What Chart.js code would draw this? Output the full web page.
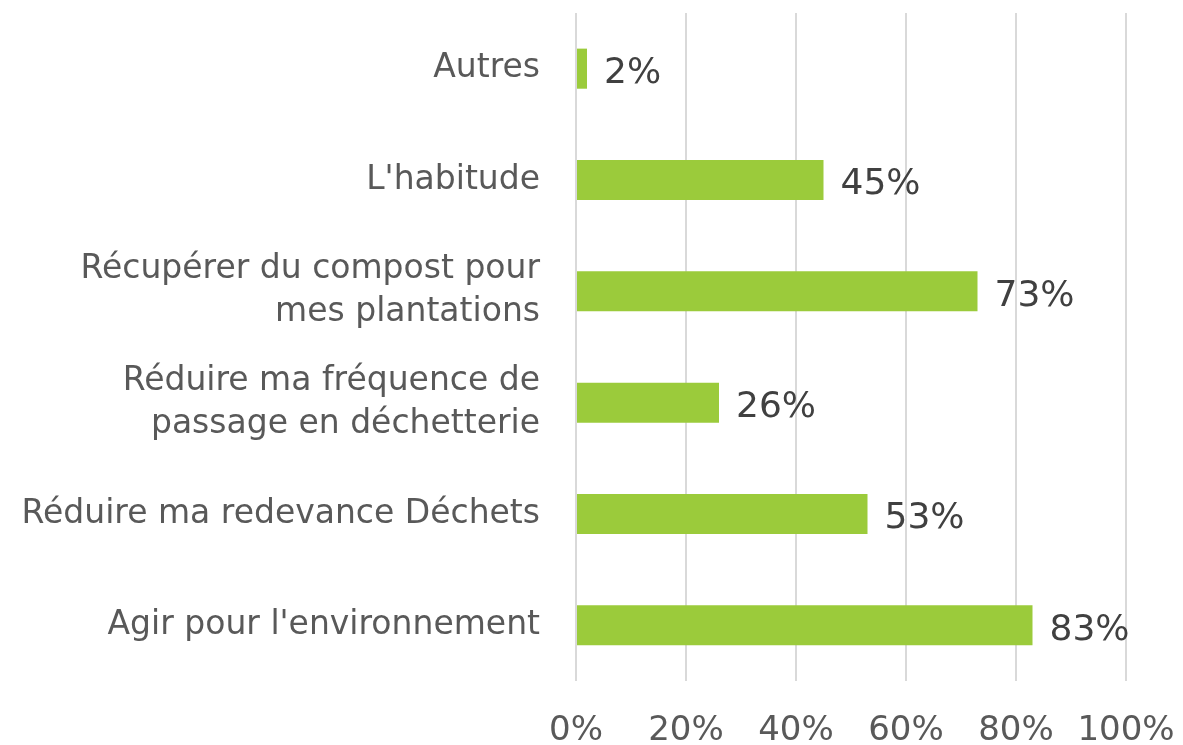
<!DOCTYPE html>
<html>
<head>
<meta charset="utf-8">
<script src="https://cdn.jsdelivr.net/npm/chart.js@4"></script>
<style>
  html, body { margin: 0; padding: 0; background: #fff; }
  #wrap { width: 1183px; height: 745px; }
</style>
</head>
<body>
<div id="wrap"><canvas id="chart" width="1183" height="745"></canvas></div>
<script>
// données
const categories = [
    "Autres",
    "L'habitude",
    ["Récupérer du compost pour", "mes plantations"],
    ["Réduire ma fréquence de", "passage en déchetterie"],
    "Réduire ma redevance Déchets",
    "Agir pour l'environnement"
];
const values = [2, 45, 73, 26, 53, 83];
const tickValues = [0, 20, 40, 60, 80, 100];

const fontFamily = "'DejaVu Sans', sans-serif";

// étiquettes de valeur au bout des barres
const valueLabels = {
    id: 'valueLabels',
    afterDatasetsDraw(chart) {
        const c = chart.ctx;
        const meta = chart.getDatasetMeta(0);
        c.save();
        c.font = "36px " + fontFamily;
        c.fillStyle = "#404040";
        c.textAlign = "left";
        c.textBaseline = "middle";
        meta.data.forEach((bar, i) => {
            c.fillText(values[i] + "%", bar.x + 17, bar.y + 5);
        });
        c.restore();
    }
};

let ctx = document.getElementById('chart').getContext('2d');
let chart = new Chart(ctx, {
    type: 'bar',
    data: {
        labels: categories,
        datasets: [{
            data: values,
            backgroundColor: '#9BCB3B',
            borderWidth: 0,
            barPercentage: 0.36,
            categoryPercentage: 1.0
        }]
    },
    options: {
        indexAxis: 'y',
        responsive: false,
        animation: false,
        layout: { padding: { top: 13, right: 57, left: 0, bottom: 0 } },
        plugins: {
            legend: { display: false },
            tooltip: { enabled: false }
        },
        scales: {
            x: {
                min: 0,
                max: 100,
                afterBuildTicks: (axis) => { axis.ticks = tickValues.map(v => ({ value: v })); },
                afterFit: (axis) => {
                    axis.height = 64;
                    axis.paddingLeft = 0;
                    axis.paddingRight = 0;
                },
                border: { display: false },
                grid: { color: '#d9d9d9', lineWidth: 2, drawTicks: false },
                ticks: {
                    padding: 30,
                    color: '#595959',
                    font: { family: fontFamily, size: 34 },
                    maxRotation: 0,
                    callback: v => v + '%'
                }
            },
            y: {
                afterFit: (axis) => {
                    axis.width = 576;
                    axis.paddingTop = 0;
                    axis.paddingBottom = 0;
                },
                border: { display: false },
                grid: { display: false, drawTicks: false },
                ticks: {
                    padding: 36,
                    color: '#595959',
                    font: { family: fontFamily, size: 33, lineHeight: 1.3 }
                }
            }
        }
    },
    plugins: [valueLabels]
});
</script>
</body>
</html>
